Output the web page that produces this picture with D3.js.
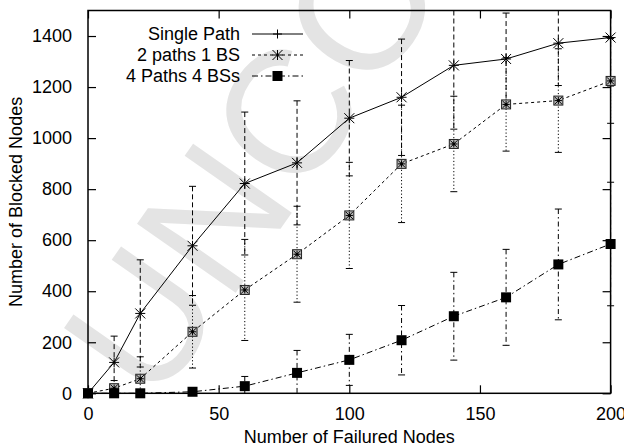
<!DOCTYPE html>
<html>
<head>
<meta charset="utf-8">
<script src="https://cdn.jsdelivr.net/npm/d3@7"></script>
<style>
  body { margin: 0; background: #fff; }
  text { font-family: "Liberation Sans", Arial, sans-serif; }
</style>
</head>
<body>
<div id="graph"></div>
<script>
// data
var failed = [0, 10, 20, 40, 60, 80, 100, 120, 140, 160, 180, 200];
var singlePath = [0, 121, 313, 578, 822, 903, 1078, 1160, 1285, 1310, 1372, 1394];
var singlePathErr = [0, 103, 210, 233, 280, 243, 226, 228, 250, 180, 166, 190];
var twoPaths = [0, 20, 57, 241, 405, 545, 697, 899, 977, 1132, 1147, 1224];
var twoPathsErr = [0, 30, 86, 142, 198, 188, 208, 230, 187, 183, 203, 166];
var fourPaths = [0, 0, 0, 6, 28, 80, 131, 208, 302, 376, 505, 585];
var fourPathsErr = [0, 0, 0, 8, 38, 88, 100, 136, 172, 188, 217, 242];
var xTicks = [0, 50, 100, 150, 200];
var yTicks = [0, 200, 400, 600, 800, 1000, 1200, 1400];
var seriesNames = ["Single Path", "2 paths 1 BS", "4 Paths 4 BSs"];

var W = 624, H = 447;
var margin = {top: 10.5, right: 13.4, bottom: 53.7, left: 88};
var width = W - margin.left - margin.right,
    height = H - margin.top - margin.bottom;

var x = d3.scaleLinear().domain([0, 200]).range([0, width]);
var y = d3.scaleLinear().domain([0, 1500]).range([height, 0]);

var svg = d3.select("#graph").append("svg")
    .attr("width", W)
    .attr("height", H);

// watermark behind everything
svg.append("text")
    .attr("transform", "translate(155,408) rotate(-55)")
    .style("font-size", "175px")
    .style("fill", "#e4e4e4")
    .text("UNCORRECTED PROOF");

var g = svg.append("g")
    .attr("transform", "translate(" + margin.left + "," + margin.top + ")");

// axes with inward ticks, mirrored on top and right
var xAxis = d3.axisBottom(x).tickValues(xTicks).tickSize(-8).tickPadding(14);
var yAxis = d3.axisLeft(y).tickValues(yTicks).tickSize(-8).tickPadding(16)
    .tickFormat(d3.format("d"));

g.append("g").attr("class", "x axis")
    .attr("transform", "translate(0," + height + ")")
    .call(xAxis);
g.append("g").attr("class", "y axis")
    .call(yAxis);
g.append("g")
    .call(d3.axisTop(x).tickValues(xTicks).tickSize(-8).tickFormat(""));
g.append("g")
    .attr("transform", "translate(" + width + ",0)")
    .call(d3.axisRight(y).tickValues(yTicks).tickSize(-8).tickFormat(""));

g.selectAll(".domain").remove();
g.selectAll(".tick line").style("stroke", "#000").style("stroke-width", 1.2);
g.selectAll(".axis text")
    .style("font-size", "18px")
    .style("fill", "#000");
g.selectAll(".x.axis text").attr("dy", "0.7em");

g.append("rect")
    .attr("width", width)
    .attr("height", height)
    .style("fill", "none")
    .style("stroke", "#000")
    .style("stroke-width", 1.5);

svg.append("text")
    .attr("x", margin.left + width / 2)
    .attr("y", 443)
    .style("text-anchor", "middle")
    .style("font-size", "18px")
    .text("Number of Failured Nodes");

svg.append("text")
    .attr("transform", "translate(22," + (margin.top + height / 2) + ") rotate(-90)")
    .style("text-anchor", "middle")
    .style("font-size", "18px")
    .text("Number of Blocked Nodes");

var series = [
    {vals: singlePath, err: singlePathErr, line: null, bar: "5,3", mark: "star"},
    {vals: twoPaths, err: twoPathsErr, line: "3,3", bar: "1.2,2.2", mark: "boxstar"},
    {vals: fourPaths, err: fourPathsErr, line: "6,3,1.5,3", bar: "5,3,1.5,3", mark: "box"}
];

function drawMark(sel, kind, cx, cy) {
    var m = sel.append("g").attr("transform", "translate(" + cx + "," + cy + ")");
    if (kind == "plus") {
        m.append("path").attr("d", "M-4.5,0H4.5M0,-4.5V4.5")
            .style("stroke", "#000").style("stroke-width", 1);
    } else if (kind == "star" || kind == "boxstar") {
        var r = kind == "star" ? 5 : 3.6;
        if (kind == "boxstar") {
            m.append("rect").attr("x", -4.5).attr("y", -4.5).attr("width", 9).attr("height", 9)
                .style("fill", "#bbb").style("stroke", "#222").style("stroke-width", 1);
        }
        m.append("path")
            .attr("d", "M" + -r + ",0H" + r + "M0," + -r + "V" + r +
                "M" + -r + "," + -r + "L" + r + "," + r + "M" + -r + "," + r + "L" + r + "," + -r)
            .style("stroke", "#000").style("stroke-width", 1);
        if (kind == "boxstar") m.append("circle").attr("r", 1.5).style("fill", "#000");
    } else {
        m.append("rect").attr("x", -5).attr("y", -5).attr("width", 10).attr("height", 10)
            .style("fill", "#000");
    }
}

series.forEach(function(s, si) {
    var sg = g.append("g").attr("class", "series");

    // error bars
    failed.forEach(function(f, i) {
        if (s.err[i] <= 0) return;
        var lo = s.vals[i] - s.err[i], hi = s.vals[i] + s.err[i];
        var top = y(Math.min(hi, 1500)), bot = y(Math.max(lo, 0));
        sg.append("line")
            .attr("x1", x(f)).attr("x2", x(f))
            .attr("y1", top).attr("y2", bot)
            .style("stroke", "#000").style("stroke-width", 1)
            .style("stroke-dasharray", s.bar);
        if (hi <= 1500) {
            sg.append("line").attr("x1", x(f) - 3.5).attr("x2", x(f) + 3.5)
                .attr("y1", top).attr("y2", top)
                .style("stroke", "#000").style("stroke-width", 1);
        }
        if (lo >= 0) {
            sg.append("line").attr("x1", x(f) - 3.5).attr("x2", x(f) + 3.5)
                .attr("y1", bot).attr("y2", bot)
                .style("stroke", "#000").style("stroke-width", 1);
        }
    });

    var line = d3.line()
        .x(function(d, i) { return x(failed[i]); })
        .y(function(d) { return y(d); });

    sg.append("path")
        .attr("d", line(s.vals))
        .style("fill", "none")
        .style("stroke", "#000")
        .style("stroke-width", 1)
        .style("stroke-dasharray", s.line);

    s.vals.forEach(function(v, i) {
        drawMark(sg, s.mark, x(failed[i]), y(v));
    });
});

// legend
var legendMarks = ["plus", "star", "box"];
var legendY = [34, 55, 76];
var legend = svg.append("g").attr("class", "legend");
seriesNames.forEach(function(name, i) {
    legend.append("text")
        .attr("x", 240)
        .attr("y", legendY[i])
        .attr("dy", "0.35em")
        .style("text-anchor", "end")
        .style("font-size", "18px")
        .text(name);
    legend.append("line")
        .attr("x1", 252).attr("x2", 303)
        .attr("y1", legendY[i]).attr("y2", legendY[i])
        .style("stroke", "#000").style("stroke-width", 1)
        .style("stroke-dasharray", series[i].line);
    drawMark(legend, legendMarks[i], 277.5, legendY[i]);
});
</script>
</body>
</html>
